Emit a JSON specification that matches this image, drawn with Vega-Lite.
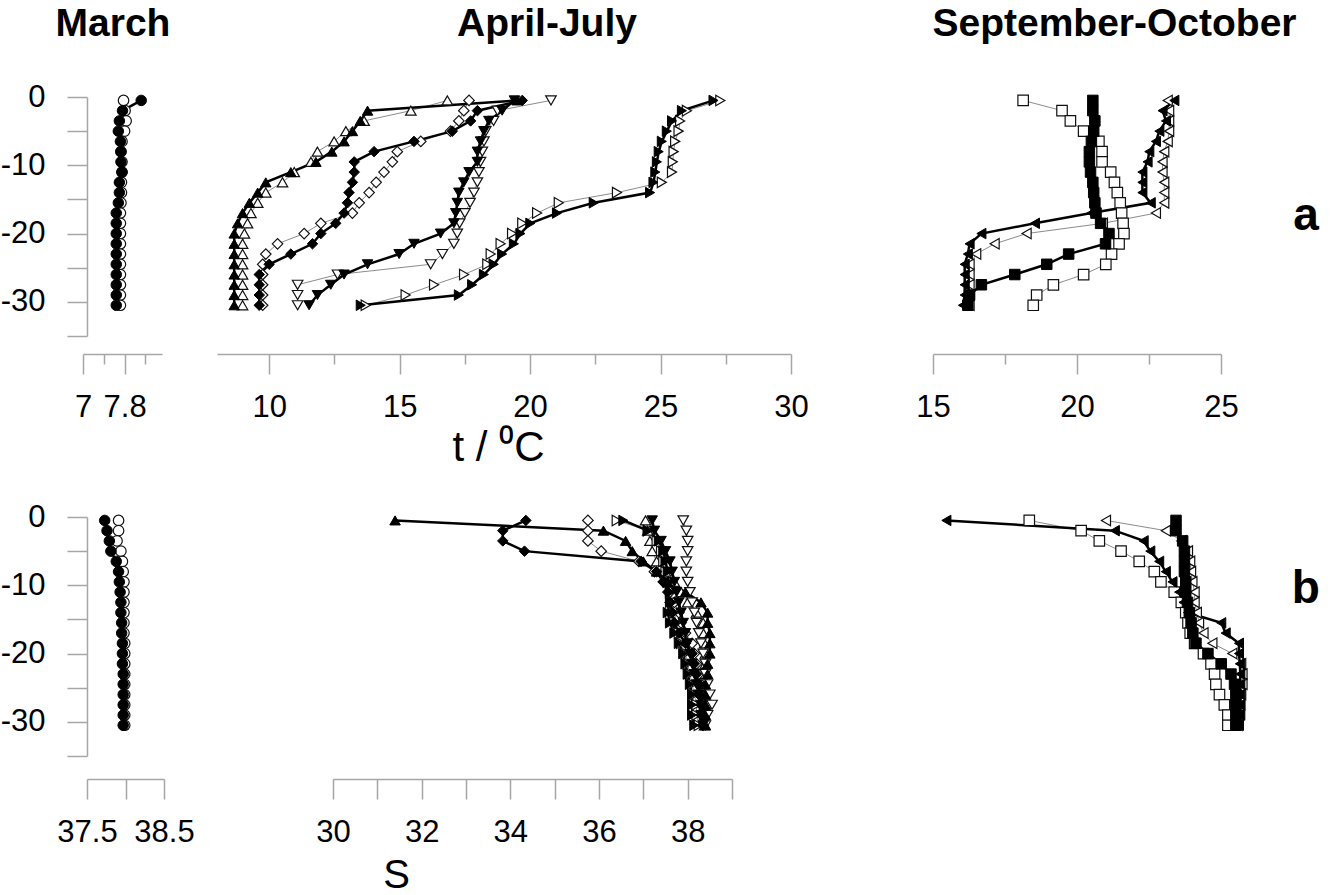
{
"$schema":"https://vega.github.io/schema/vega-lite/v6.json",
"background":"white",
"padding":{"left":0,"top":4,"right":0,"bottom":12},
"datasets":{"prof":[
{"k":"Mf","d":-0.5,"t":8.12,"s":37.73},{"k":"Mf","d":-2,"t":7.76,"s":37.76},{"k":"Mf","d":-3.5,"t":7.70,"s":37.79},{"k":"Mf","d":-5,"t":7.68,"s":37.81},{"k":"Mf","d":-6.5,"t":7.72,"s":37.88},{"k":"Mf","d":-8,"t":7.73,"s":37.91},{"k":"Mf","d":-9.5,"t":7.73,"s":37.92},{"k":"Mf","d":-11,"t":7.75,"s":37.93},{"k":"Mf","d":-12.5,"t":7.70,"s":37.94},{"k":"Mf","d":-14,"t":7.70,"s":37.94},{"k":"Mf","d":-15.5,"t":7.68,"s":37.95},{"k":"Mf","d":-17,"t":7.64,"s":37.95},{"k":"Mf","d":-18.5,"t":7.64,"s":37.96},{"k":"Mf","d":-20,"t":7.64,"s":37.96},{"k":"Mf","d":-21.5,"t":7.64,"s":37.96},{"k":"Mf","d":-23,"t":7.64,"s":37.97},{"k":"Mf","d":-24.5,"t":7.64,"s":37.97},{"k":"Mf","d":-26,"t":7.64,"s":37.97},{"k":"Mf","d":-27.5,"t":7.64,"s":37.97},{"k":"Mf","d":-29,"t":7.64,"s":37.97},{"k":"Mf","d":-30.5,"t":7.64,"s":37.97},
{"k":"Mo","d":-0.5,"t":7.78,"s":37.91},{"k":"Mo","d":-2,"t":7.81,"s":37.91},{"k":"Mo","d":-3.5,"t":7.83,"s":37.89},{"k":"Mo","d":-5,"t":7.80,"s":37.94},{"k":"Mo","d":-6.5,"t":7.75,"s":37.96},{"k":"Mo","d":-8,"t":7.73,"s":37.97},{"k":"Mo","d":-9.5,"t":7.75,"s":37.98},{"k":"Mo","d":-11,"t":7.75,"s":37.98},{"k":"Mo","d":-12.5,"t":7.74,"s":37.98},{"k":"Mo","d":-14,"t":7.74,"s":37.98},{"k":"Mo","d":-15.5,"t":7.73,"s":37.98},{"k":"Mo","d":-17,"t":7.72,"s":37.98},{"k":"Mo","d":-18.5,"t":7.72,"s":37.99},{"k":"Mo","d":-20,"t":7.72,"s":37.99},{"k":"Mo","d":-21.5,"t":7.72,"s":37.99},{"k":"Mo","d":-23,"t":7.72,"s":37.99},{"k":"Mo","d":-24.5,"t":7.72,"s":37.99},{"k":"Mo","d":-26,"t":7.72,"s":37.99},{"k":"Mo","d":-27.5,"t":7.72,"s":37.99},{"k":"Mo","d":-29,"t":7.72,"s":37.99},{"k":"Mo","d":-30.5,"t":7.72,"s":37.99},
{"k":"Uf","d":-0.5,"t":19.5,"s":31.4},{"k":"Uf","d":-2,"t":13.77,"s":36.1},{"k":"Uf","d":-3.5,"t":13.49,"s":36.6},{"k":"Uf","d":-5,"t":13.19,"s":36.75},{"k":"Uf","d":-6.5,"t":12.87,"s":37.0},{"k":"Uf","d":-8,"t":12.4,"s":37.3},{"k":"Uf","d":-9.5,"t":11.79,"s":37.55},{"k":"Uf","d":-11,"t":10.83,"s":37.95},{"k":"Uf","d":-12.5,"t":9.87,"s":38.3},{"k":"Uf","d":-14,"t":9.56,"s":38.45},{"k":"Uf","d":-15.5,"t":9.24,"s":38.45},{"k":"Uf","d":-17,"t":8.98,"s":38.5},{"k":"Uf","d":-18.5,"t":8.79,"s":38.5},{"k":"Uf","d":-20,"t":8.66,"s":38.5},{"k":"Uf","d":-21.5,"t":8.66,"s":38.45},{"k":"Uf","d":-23,"t":8.66,"s":38.45},{"k":"Uf","d":-24.5,"t":8.66,"s":38.4},{"k":"Uf","d":-26,"t":8.66,"s":38.4},{"k":"Uf","d":-27.5,"t":8.66,"s":38.4},{"k":"Uf","d":-29,"t":8.66,"s":38.4},{"k":"Uf","d":-30.5,"t":8.66,"s":38.4},
{"k":"Uo","d":-0.5,"t":16.83,"s":37.05},{"k":"Uo","d":-2,"t":15.43,"s":37.1},{"k":"Uo","d":-3.5,"t":13.64,"s":37.15},{"k":"Uo","d":-5,"t":12.94,"s":37.2},{"k":"Uo","d":-6.5,"t":12.49,"s":37.3},{"k":"Uo","d":-8,"t":11.85,"s":37.5},{"k":"Uo","d":-9.5,"t":11.6,"s":37.7},{"k":"Uo","d":-11,"t":10.96,"s":37.85},{"k":"Uo","d":-12.5,"t":10.51,"s":38.0},{"k":"Uo","d":-14,"t":9.87,"s":38.2},{"k":"Uo","d":-15.5,"t":9.56,"s":38.35},{"k":"Uo","d":-17,"t":9.3,"s":38.35},{"k":"Uo","d":-18.5,"t":9.17,"s":38.38},{"k":"Uo","d":-20,"t":9.05,"s":38.4},{"k":"Uo","d":-21.5,"t":8.98,"s":38.4},{"k":"Uo","d":-23,"t":8.98,"s":38.4},{"k":"Uo","d":-24.5,"t":8.98,"s":38.38},{"k":"Uo","d":-26,"t":8.98,"s":38.38},{"k":"Uo","d":-27.5,"t":8.98,"s":38.38},{"k":"Uo","d":-29,"t":8.98,"s":38.38},{"k":"Uo","d":-30.5,"t":8.98,"s":38.38},
{"k":"Df","d":-0.5,"t":19.7,"s":34.35},{"k":"Df","d":-2,"t":17.98,"s":33.83},{"k":"Df","d":-3.5,"t":17.72,"s":33.83},{"k":"Df","d":-5,"t":17.02,"s":34.32},{"k":"Df","d":-6.5,"t":15.55,"s":36.95},{"k":"Df","d":-8,"t":14.02,"s":37.3},{"k":"Df","d":-9.5,"t":13.26,"s":37.45},{"k":"Df","d":-11,"t":13.26,"s":37.55},{"k":"Df","d":-12.5,"t":13.19,"s":37.6},{"k":"Df","d":-14,"t":13.06,"s":37.65},{"k":"Df","d":-15.5,"t":13.0,"s":37.7},{"k":"Df","d":-17,"t":12.87,"s":37.8},{"k":"Df","d":-18.5,"t":12.55,"s":37.95},{"k":"Df","d":-20,"t":11.98,"s":38.1},{"k":"Df","d":-21.5,"t":11.66,"s":38.15},{"k":"Df","d":-23,"t":10.83,"s":38.2},{"k":"Df","d":-24.5,"t":10.0,"s":38.25},{"k":"Df","d":-26,"t":9.62,"s":38.25},{"k":"Df","d":-27.5,"t":9.62,"s":38.3},{"k":"Df","d":-29,"t":9.62,"s":38.3},{"k":"Df","d":-30.5,"t":9.62,"s":38.33},
{"k":"Do","d":-0.5,"t":17.66,"s":35.75},{"k":"Do","d":-2,"t":17.46,"s":35.75},{"k":"Do","d":-3.5,"t":17.27,"s":35.75},{"k":"Do","d":-5,"t":16.95,"s":36.05},{"k":"Do","d":-6.5,"t":15.81,"s":36.9},{"k":"Do","d":-8,"t":14.91,"s":37.25},{"k":"Do","d":-9.5,"t":14.72,"s":37.45},{"k":"Do","d":-11,"t":14.4,"s":37.6},{"k":"Do","d":-12.5,"t":14.1,"s":37.7},{"k":"Do","d":-14,"t":13.83,"s":37.8},{"k":"Do","d":-15.5,"t":13.45,"s":37.85},{"k":"Do","d":-17,"t":13.19,"s":37.95},{"k":"Do","d":-18.5,"t":11.98,"s":38.1},{"k":"Do","d":-20,"t":11.34,"s":38.15},{"k":"Do","d":-21.5,"t":10.32,"s":38.2},{"k":"Do","d":-23,"t":9.87,"s":38.25},{"k":"Do","d":-24.5,"t":9.75,"s":38.25},{"k":"Do","d":-26,"t":9.75,"s":38.3},{"k":"Do","d":-27.5,"t":9.75,"s":38.3},{"k":"Do","d":-29,"t":9.75,"s":38.32},{"k":"Do","d":-30.5,"t":9.75,"s":38.35},
{"k":"Vf","d":-0.5,"t":19.4,"s":37.2},{"k":"Vf","d":-2,"t":18.93,"s":37.25},{"k":"Vf","d":-3.5,"t":18.42,"s":37.4},{"k":"Vf","d":-5,"t":18.23,"s":37.5},{"k":"Vf","d":-6.5,"t":18.1,"s":37.6},{"k":"Vf","d":-8,"t":17.98,"s":37.65},{"k":"Vf","d":-9.5,"t":17.98,"s":37.7},{"k":"Vf","d":-11,"t":17.66,"s":37.75},{"k":"Vf","d":-12.5,"t":17.46,"s":37.8},{"k":"Vf","d":-14,"t":17.27,"s":37.85},{"k":"Vf","d":-15.5,"t":17.21,"s":37.9},{"k":"Vf","d":-17,"t":17.15,"s":37.95},{"k":"Vf","d":-18.5,"t":17.08,"s":38.0},{"k":"Vf","d":-20,"t":16.57,"s":38.05},{"k":"Vf","d":-21.5,"t":15.55,"s":38.1},{"k":"Vf","d":-23,"t":14.98,"s":38.15},{"k":"Vf","d":-24.5,"t":13.77,"s":38.2},{"k":"Vf","d":-26,"t":12.87,"s":38.25},{"k":"Vf","d":-27.5,"t":12.36,"s":38.3},{"k":"Vf","d":-29,"t":11.85,"s":38.3},{"k":"Vf","d":-30.5,"t":11.53,"s":38.35},
{"k":"Vo","d":-0.5,"t":20.8,"s":37.9},{"k":"Vo","d":-2,"t":18.75,"s":37.97},{"k":"Vo","d":-3.5,"t":18.6,"s":38.0},{"k":"Vo","d":-5,"t":18.3,"s":38.0},{"k":"Vo","d":-6.5,"t":18.23,"s":37.97},{"k":"Vo","d":-8,"t":18.17,"s":37.97},{"k":"Vo","d":-9.5,"t":18.1,"s":38.0},{"k":"Vo","d":-11,"t":18.04,"s":38.05},{"k":"Vo","d":-12.5,"t":17.98,"s":38.1},{"k":"Vo","d":-14,"t":17.85,"s":38.15},{"k":"Vo","d":-15.5,"t":17.7,"s":38.2},{"k":"Vo","d":-17,"t":17.5,"s":38.25},{"k":"Vo","d":-18.5,"t":17.3,"s":38.3},{"k":"Vo","d":-20,"t":17.21,"s":38.35},{"k":"Vo","d":-21.5,"t":17.08,"s":38.4},{"k":"Vo","d":-23,"t":16.64,"s":38.4},{"k":"Vo","d":-24.5,"t":16.19,"s":38.45},{"k":"Vo","d":-26,"t":12.62,"s":38.5},{"k":"Vo","d":-27.5,"t":11.09,"s":38.55},{"k":"Vo","d":-29,"t":11.09,"s":38.45},{"k":"Vo","d":-30.5,"t":11.09,"s":38.4},
{"k":"Rf","d":-0.5,"t":27.03,"s":36.55},{"k":"Rf","d":-2,"t":25.82,"s":37.1},{"k":"Rf","d":-3.5,"t":25.44,"s":37.35},{"k":"Rf","d":-5,"t":25.24,"s":37.45},{"k":"Rf","d":-6.5,"t":25.05,"s":37.5},{"k":"Rf","d":-8,"t":24.93,"s":37.55},{"k":"Rf","d":-9.5,"t":24.86,"s":37.55},{"k":"Rf","d":-11,"t":24.8,"s":37.6},{"k":"Rf","d":-12.5,"t":24.73,"s":37.6},{"k":"Rf","d":-14,"t":24.6,"s":37.55},{"k":"Rf","d":-15.5,"t":22.44,"s":37.6},{"k":"Rf","d":-17,"t":21.03,"s":37.7},{"k":"Rf","d":-18.5,"t":20.01,"s":37.8},{"k":"Rf","d":-20,"t":19.63,"s":37.9},{"k":"Rf","d":-21.5,"t":19.38,"s":37.95},{"k":"Rf","d":-23,"t":18.93,"s":38.0},{"k":"Rf","d":-24.5,"t":18.61,"s":38.05},{"k":"Rf","d":-26,"t":18.23,"s":38.1},{"k":"Rf","d":-27.5,"t":17.78,"s":38.1},{"k":"Rf","d":-29,"t":17.27,"s":38.1},{"k":"Rf","d":-30.5,"t":13.51,"s":38.15},
{"k":"Ro","d":-0.5,"t":27.29,"s":36.4},{"k":"Ro","d":-2,"t":26.01,"s":37.1},{"k":"Ro","d":-3.5,"t":25.75,"s":37.3},{"k":"Ro","d":-5,"t":25.69,"s":37.4},{"k":"Ro","d":-6.5,"t":25.56,"s":37.45},{"k":"Ro","d":-8,"t":25.5,"s":37.5},{"k":"Ro","d":-9.5,"t":25.47,"s":37.55},{"k":"Ro","d":-11,"t":25.44,"s":37.6},{"k":"Ro","d":-12.5,"t":25.05,"s":37.65},{"k":"Ro","d":-14,"t":23.33,"s":37.7},{"k":"Ro","d":-15.5,"t":21.1,"s":37.75},{"k":"Ro","d":-17,"t":20.27,"s":37.8},{"k":"Ro","d":-18.5,"t":19.7,"s":37.85},{"k":"Ro","d":-20,"t":19.31,"s":37.95},{"k":"Ro","d":-21.5,"t":18.87,"s":38.0},{"k":"Ro","d":-23,"t":18.49,"s":38.05},{"k":"Ro","d":-24.5,"t":18.36,"s":38.1},{"k":"Ro","d":-26,"t":17.47,"s":38.15},{"k":"Ro","d":-27.5,"t":16.32,"s":38.2},{"k":"Ro","d":-29,"t":15.23,"s":38.2},{"k":"Ro","d":-30.5,"t":13.7,"s":38.25},
{"k":"Sf","d":-0.5,"t":20.55,"s":36.88},{"k":"Sf","d":-2,"t":20.55,"s":36.88},{"k":"Sf","d":-3.5,"t":20.62,"s":37.03},{"k":"Sf","d":-5,"t":20.58,"s":37.07},{"k":"Sf","d":-6.5,"t":20.5,"s":37.07},{"k":"Sf","d":-8,"t":20.43,"s":37.07},{"k":"Sf","d":-9.5,"t":20.43,"s":37.1},{"k":"Sf","d":-11,"t":20.47,"s":37.1},{"k":"Sf","d":-12.5,"t":20.55,"s":37.14},{"k":"Sf","d":-14,"t":20.58,"s":37.18},{"k":"Sf","d":-15.5,"t":20.62,"s":37.22},{"k":"Sf","d":-17,"t":20.66,"s":37.26},{"k":"Sf","d":-18.5,"t":20.82,"s":37.33},{"k":"Sf","d":-20,"t":21.11,"s":37.6},{"k":"Sf","d":-21.5,"t":20.99,"s":37.9},{"k":"Sf","d":-23,"t":19.71,"s":38.12},{"k":"Sf","d":-24.5,"t":18.95,"s":38.2},{"k":"Sf","d":-26,"t":17.84,"s":38.23},{"k":"Sf","d":-27.5,"t":16.68,"s":38.23},{"k":"Sf","d":-29,"t":16.27,"s":38.23},{"k":"Sf","d":-30.5,"t":16.21,"s":38.23},
{"k":"So","d":-0.5,"t":18.13,"s":33.57},{"k":"So","d":-2,"t":19.48,"s":34.74},{"k":"So","d":-3.5,"t":19.77,"s":35.15},{"k":"So","d":-5,"t":20.23,"s":35.64},{"k":"So","d":-6.5,"t":20.76,"s":36.05},{"k":"So","d":-8,"t":20.87,"s":36.39},{"k":"So","d":-9.5,"t":20.87,"s":36.54},{"k":"So","d":-11,"t":21.17,"s":36.84},{"k":"So","d":-12.5,"t":21.3,"s":37.0},{"k":"So","d":-14,"t":21.4,"s":37.1},{"k":"So","d":-15.5,"t":21.5,"s":37.15},{"k":"So","d":-17,"t":21.55,"s":37.2},{"k":"So","d":-18.5,"t":21.6,"s":37.3},{"k":"So","d":-20,"t":21.63,"s":37.5},{"k":"So","d":-21.5,"t":21.46,"s":37.67},{"k":"So","d":-23,"t":21.2,"s":37.75},{"k":"So","d":-24.5,"t":21.0,"s":37.78},{"k":"So","d":-26,"t":20.23,"s":37.86},{"k":"So","d":-27.5,"t":19.18,"s":37.97},{"k":"So","d":-29,"t":18.6,"s":38.05},{"k":"So","d":-30.5,"t":18.48,"s":38.05},
{"k":"Lf","d":-0.5,"t":23.38,"s":31.7},{"k":"Lf","d":-2,"t":22.97,"s":35.5},{"k":"Lf","d":-3.5,"t":23.09,"s":36.15},{"k":"Lf","d":-5,"t":22.86,"s":36.3},{"k":"Lf","d":-6.5,"t":22.74,"s":36.5},{"k":"Lf","d":-8,"t":22.51,"s":36.65},{"k":"Lf","d":-9.5,"t":22.45,"s":36.8},{"k":"Lf","d":-11,"t":22.27,"s":36.95},{"k":"Lf","d":-12.5,"t":22.27,"s":37.05},{"k":"Lf","d":-14,"t":22.27,"s":37.15},{"k":"Lf","d":-15.5,"t":22.56,"s":37.9},{"k":"Lf","d":-17,"t":20.5,"s":38.0},{"k":"Lf","d":-18.5,"t":18.54,"s":38.3},{"k":"Lf","d":-20,"t":16.68,"s":38.3},{"k":"Lf","d":-21.5,"t":16.27,"s":38.32},{"k":"Lf","d":-23,"t":16.21,"s":38.33},{"k":"Lf","d":-24.5,"t":16.1,"s":38.33},{"k":"Lf","d":-26,"t":16.1,"s":38.33},{"k":"Lf","d":-27.5,"t":16.1,"s":38.33},{"k":"Lf","d":-29,"t":16.1,"s":38.33},{"k":"Lf","d":-30.5,"t":16.04,"s":38.3},
{"k":"Lo","d":-0.5,"t":23.15,"s":35.3},{"k":"Lo","d":-2,"t":23.2,"s":36.65},{"k":"Lo","d":-3.5,"t":23.2,"s":37.0},{"k":"Lo","d":-5,"t":23.2,"s":37.15},{"k":"Lo","d":-6.5,"t":23.15,"s":37.2},{"k":"Lo","d":-8,"t":23.03,"s":37.22},{"k":"Lo","d":-9.5,"t":22.97,"s":37.25},{"k":"Lo","d":-11,"t":22.97,"s":37.3},{"k":"Lo","d":-12.5,"t":23.03,"s":37.3},{"k":"Lo","d":-14,"t":23.03,"s":37.35},{"k":"Lo","d":-15.5,"t":23.03,"s":37.4},{"k":"Lo","d":-17,"t":22.74,"s":37.5},{"k":"Lo","d":-18.5,"t":20.9,"s":37.7},{"k":"Lo","d":-20,"t":18.25,"s":38.15},{"k":"Lo","d":-21.5,"t":17.14,"s":38.35},{"k":"Lo","d":-23,"t":16.5,"s":38.38},{"k":"Lo","d":-24.5,"t":16.27,"s":38.38},{"k":"Lo","d":-26,"t":16.27,"s":38.35},{"k":"Lo","d":-27.5,"t":16.27,"s":38.33},{"k":"Lo","d":-29,"t":16.27,"s":38.3},{"k":"Lo","d":-30.5,"t":16.27,"s":38.27}
]},
"data":{"name":"prof"},
"columns":3,
"bounds":"flush",
"align":"each",
"spacing":{"row":181,"column":10},
"concat":[
{
"width":124,"height":239,
"title":{"text":"March","frame":"group","anchor":"middle","dx":-32,"offset":6,"baseline":"alphabetic","fontSize":39,"fontWeight":"bold","font":"Liberation Sans","color":"#000"},
"encoding":{
"x":{"field":"t","type":"quantitative","scale":{"domain":[7,8.52],"range":[0,79],"nice":false,"zero":false},"axis":null},
"y":{"field":"d","type":"quantitative","scale":{"domain":[-35,0],"nice":false,"zero":false},"axis":{"values":[0,-5,-10,-15,-20,-25,-30,-35],"tickSize":20,"labelPadding":22,"offset":-4,"title":null,"labelExpr":"datum.value % 10 === 0 ? toString(datum.value) : ''"}}
},
"resolve":{"axis":{"x":"independent"}},
"layer":[
{"transform":[{"filter":{"field":"k","oneOf":["Mo"]}}],"mark":{"type":"line","color":"#8c8c8c","strokeWidth":1},
"encoding":{"x":{"field":"t","type":"quantitative","scale":{"domain":[7,8.52],"range":[0,79],"nice":false,"zero":false},"axis":{"orient":"bottom","values":[7,7.8],"tickSize":20,"labelPadding":18,"offset":18,"labelExpr":"toString(datum.value)","title":null}},"detail":{"field":"k","type":"nominal"},"order":{"field":"d","type":"quantitative"}}},
{"transform":[{"filter":{"field":"k","oneOf":["Mf"]}}],"mark":{"type":"line","color":"#000","strokeWidth":2.5},
"encoding":{"x":{"field":"t","type":"quantitative","scale":{"domain":[7,8.52],"range":[0,79],"nice":false,"zero":false},"axis":{"orient":"bottom","values":[7.4,8.2],"tickSize":10,"labels":false,"domain":false,"offset":18,"title":null}},"detail":{"field":"k","type":"nominal"},"order":{"field":"d","type":"quantitative"}}},
{"transform":[{"filter":{"field":"k","oneOf":["Mo"]}}],"mark":{"type":"point","filled":true,"fill":"#fff","stroke":"#111","strokeWidth":1.2,"opacity":1},
"encoding":{"shape":{"field":"k","type":"nominal","legend":null,"scale":{"domain":["Mf","Mo","Uf","Uo","Df","Do","Vf","Vo","Rf","Ro","Sf","So","Lf","Lo"],"range":["circle","circle","triangle-up","triangle-up","diamond","diamond","triangle-down","triangle-down","triangle-right","triangle-right","square","square","triangle-left","triangle-left"]}},"size":{"field":"k","type":"ordinal","legend":null,"scale":{"domain":["Mf","Mo","Uf","Uo","Df","Do","Vf","Vo","Rf","Ro","Sf","So","Lf","Lo"],"range":[110,110,230,230,200,200,230,230,230,230,140,140,230,230]}}}},
{"transform":[{"filter":{"field":"k","oneOf":["Mf"]}}],"mark":{"type":"point","filled":true,"fill":"#000","stroke":"#000","strokeWidth":1,"opacity":1},
"encoding":{"shape":{"field":"k","type":"nominal","legend":null},"size":{"field":"k","type":"ordinal","legend":null}}}
]
},
{
"width":644,"height":239,
"title":{"text":"April-July","frame":"group","anchor":"middle","dx":8,"offset":18,"baseline":"alphabetic","fontSize":39,"fontWeight":"bold","font":"Liberation Sans","color":"#000"},
"encoding":{
"x":{"field":"t","type":"quantitative","scale":{"domain":[8,30],"range":[0,574],"nice":false,"zero":false},"axis":null},
"y":{"field":"d","type":"quantitative","scale":{"domain":[-35,0],"nice":false,"zero":false},"axis":null}
},
"resolve":{"axis":{"x":"independent"}},
"layer":[
{"transform":[{"filter":{"field":"k","oneOf":["Uo","Do","Vo","Ro"]}}],"mark":{"type":"line","color":"#8c8c8c","strokeWidth":1},
"encoding":{"x":{"field":"t","type":"quantitative","scale":{"domain":[8,30],"range":[0,574],"nice":false,"zero":false},"axis":{"orient":"bottom","values":[10,15,20,25,30],"tickSize":20,"labelPadding":18,"offset":18,"labelExpr":"toString(datum.value)","title":"t / ⁰C","titleX":281,"titleY":106,"titleBaseline":"alphabetic","titleAlign":"center","titleFontSize":42}},"detail":{"field":"k","type":"nominal"},"order":{"field":"d","type":"quantitative"}}},
{"transform":[{"filter":{"field":"k","oneOf":["Uf","Df","Vf","Rf"]}}],"mark":{"type":"line","color":"#000","strokeWidth":2.5},
"encoding":{"x":{"field":"t","type":"quantitative","scale":{"domain":[8,30],"range":[0,574],"nice":false,"zero":false},"axis":{"orient":"bottom","values":[12.5,17.5,22.5,27.5],"tickSize":10,"labels":false,"domain":false,"offset":18,"title":null}},"detail":{"field":"k","type":"nominal"},"order":{"field":"d","type":"quantitative"}}},
{"transform":[{"filter":{"field":"k","oneOf":["Uo","Do","Vo","Ro"]}}],"mark":{"type":"point","filled":true,"fill":"#fff","stroke":"#111","strokeWidth":1.2,"opacity":1},
"encoding":{"shape":{"field":"k","type":"nominal","legend":null},"size":{"field":"k","type":"ordinal","legend":null}}},
{"transform":[{"filter":{"field":"k","oneOf":["Uf","Df","Vf","Rf"]}}],"mark":{"type":"point","filled":true,"fill":"#000","stroke":"#000","strokeWidth":1,"opacity":1},
"encoding":{"shape":{"field":"k","type":"nominal","legend":null},"size":{"field":"k","type":"ordinal","legend":null}}}
]
},
{
"width":399,"height":239,
"title":{"text":"September-October","frame":"group","anchor":"middle","dx":44,"offset":18,"baseline":"alphabetic","fontSize":39,"fontWeight":"bold","font":"Liberation Sans","color":"#000"},
"encoding":{
"x":{"field":"t","type":"quantitative","scale":{"domain":[15,25],"range":[62,350],"nice":false,"zero":false},"axis":null},
"y":{"field":"d","type":"quantitative","scale":{"domain":[-35,0],"nice":false,"zero":false},"axis":null}
},
"resolve":{"axis":{"x":"independent"}},
"layer":[
{"transform":[{"filter":{"field":"k","oneOf":["So","Lo"]}}],"mark":{"type":"line","color":"#8c8c8c","strokeWidth":1},
"encoding":{"x":{"field":"t","type":"quantitative","scale":{"domain":[15,25],"range":[62,350],"nice":false,"zero":false},"axis":{"orient":"bottom","values":[15,20,25],"tickSize":20,"labelPadding":18,"offset":18,"labelExpr":"toString(datum.value)","title":null}},"detail":{"field":"k","type":"nominal"},"order":{"field":"d","type":"quantitative"}}},
{"transform":[{"filter":{"field":"k","oneOf":["Sf","Lf"]}}],"mark":{"type":"line","color":"#000","strokeWidth":2.5},
"encoding":{"x":{"field":"t","type":"quantitative","scale":{"domain":[15,25],"range":[62,350],"nice":false,"zero":false},"axis":{"orient":"bottom","values":[17.5,22.5],"tickSize":10,"labels":false,"domain":false,"offset":18,"title":null}},"detail":{"field":"k","type":"nominal"},"order":{"field":"d","type":"quantitative"}}},
{"transform":[{"filter":{"field":"k","oneOf":["So","Lo"]}}],"mark":{"type":"point","filled":true,"fill":"#fff","stroke":"#111","strokeWidth":1.2,"opacity":1},
"encoding":{"shape":{"field":"k","type":"nominal","legend":null},"size":{"field":"k","type":"ordinal","legend":null}}},
{"transform":[{"filter":{"field":"k","oneOf":["Sf","Lf"]}}],"mark":{"type":"point","filled":true,"fill":"#000","stroke":"#000","strokeWidth":1,"opacity":1},
"encoding":{"shape":{"field":"k","type":"nominal","legend":null},"size":{"field":"k","type":"ordinal","legend":null}}},
{"data":{"values":[{"lab":"a","x":27.95,"y":-19.5}]},"mark":{"type":"text","font":"Liberation Sans","fontSize":46,"fontWeight":"bold","color":"#000","baseline":"alphabetic","align":"center"},
"encoding":{"x":{"field":"x","type":"quantitative","axis":null},"y":{"field":"y","type":"quantitative","axis":null},"text":{"field":"lab"}}}
]
},
{
"width":124,"height":239,
"encoding":{
"x":{"field":"s","type":"quantitative","scale":{"domain":[37.5,38.5],"range":[4,81],"nice":false,"zero":false},"axis":{"orient":"bottom","values":[37.5,38,38.5],"tickSize":20,"labelPadding":18,"offset":23,"labelExpr":"datum.value === 38 ? '' : toString(datum.value)","title":null}},
"y":{"field":"d","type":"quantitative","scale":{"domain":[-35,0],"nice":false,"zero":false},"axis":{"values":[0,-5,-10,-15,-20,-25,-30,-35],"tickSize":20,"labelPadding":22,"offset":-4,"title":null,"labelExpr":"datum.value % 10 === 0 ? toString(datum.value) : ''"}}
},
"layer":[
{"transform":[{"filter":{"field":"k","oneOf":["Mo"]}}],"mark":{"type":"line","color":"#8c8c8c","strokeWidth":1},
"encoding":{"detail":{"field":"k","type":"nominal"},"order":{"field":"d","type":"quantitative"}}},
{"transform":[{"filter":{"field":"k","oneOf":["Mf"]}}],"mark":{"type":"line","color":"#000","strokeWidth":2.5},
"encoding":{"detail":{"field":"k","type":"nominal"},"order":{"field":"d","type":"quantitative"}}},
{"transform":[{"filter":{"field":"k","oneOf":["Mo"]}}],"mark":{"type":"point","filled":true,"fill":"#fff","stroke":"#111","strokeWidth":1.2,"opacity":1},
"encoding":{"shape":{"field":"k","type":"nominal","legend":null},"size":{"field":"k","type":"ordinal","legend":null}}},
{"transform":[{"filter":{"field":"k","oneOf":["Mf"]}}],"mark":{"type":"point","filled":true,"fill":"#000","stroke":"#000","strokeWidth":1,"opacity":1},
"encoding":{"shape":{"field":"k","type":"nominal","legend":null},"size":{"field":"k","type":"ordinal","legend":null}}}
]
},
{
"width":644,"height":239,
"encoding":{
"x":{"field":"s","type":"quantitative","scale":{"domain":[30,39],"range":[116,515],"nice":false,"zero":false},"axis":{"orient":"bottom","values":[30,31,32,33,34,35,36,37,38,39],"tickSize":20,"labelPadding":18,"offset":23,"labelExpr":"datum.value % 2 === 0 ? toString(datum.value) : ''","title":"S","titleX":179,"titleY":108,"titleBaseline":"alphabetic","titleAlign":"center","titleFontSize":40}},
"y":{"field":"d","type":"quantitative","scale":{"domain":[-35,0],"nice":false,"zero":false},"axis":null}
},
"layer":[
{"transform":[{"filter":{"field":"k","oneOf":["Uo","Do","Vo","Ro"]}}],"mark":{"type":"line","color":"#8c8c8c","strokeWidth":1},
"encoding":{"detail":{"field":"k","type":"nominal"},"order":{"field":"d","type":"quantitative"}}},
{"transform":[{"filter":{"field":"k","oneOf":["Uf","Df","Vf","Rf"]}}],"mark":{"type":"line","color":"#000","strokeWidth":2.5},
"encoding":{"detail":{"field":"k","type":"nominal"},"order":{"field":"d","type":"quantitative"}}},
{"transform":[{"filter":{"field":"k","oneOf":["Uo","Do","Vo","Ro"]}}],"mark":{"type":"point","filled":true,"fill":"#fff","stroke":"#111","strokeWidth":1.2,"opacity":1},
"encoding":{"shape":{"field":"k","type":"nominal","legend":null},"size":{"field":"k","type":"ordinal","legend":null}}},
{"transform":[{"filter":{"field":"k","oneOf":["Uf","Df","Vf","Rf"]}}],"mark":{"type":"point","filled":true,"fill":"#000","stroke":"#000","strokeWidth":1,"opacity":1},
"encoding":{"shape":{"field":"k","type":"nominal","legend":null},"size":{"field":"k","type":"ordinal","legend":null}}}
]
},
{
"width":399,"height":239,
"encoding":{
"x":{"field":"s","type":"quantitative","scale":{"domain":[30,39],"range":[0,399],"nice":false,"zero":false},"axis":{"orient":"bottom","values":[30,31,32,33,34,35,36,37,38,39],"tickSize":20,"labelPadding":18,"offset":23,"labelExpr":"datum.value % 2 === 0 ? toString(datum.value) : ''","title":null}},
"y":{"field":"d","type":"quantitative","scale":{"domain":[-35,0],"nice":false,"zero":false},"axis":null}
},
"layer":[
{"transform":[{"filter":{"field":"k","oneOf":["So","Lo"]}}],"mark":{"type":"line","color":"#8c8c8c","strokeWidth":1},
"encoding":{"detail":{"field":"k","type":"nominal"},"order":{"field":"d","type":"quantitative"}}},
{"transform":[{"filter":{"field":"k","oneOf":["Sf","Lf"]}}],"mark":{"type":"line","color":"#000","strokeWidth":2.5},
"encoding":{"detail":{"field":"k","type":"nominal"},"order":{"field":"d","type":"quantitative"}}},
{"transform":[{"filter":{"field":"k","oneOf":["So","Lo"]}}],"mark":{"type":"point","filled":true,"fill":"#fff","stroke":"#111","strokeWidth":1.2,"opacity":1},
"encoding":{"shape":{"field":"k","type":"nominal","legend":null},"size":{"field":"k","type":"ordinal","legend":null}}},
{"transform":[{"filter":{"field":"k","oneOf":["Sf","Lf"]}}],"mark":{"type":"point","filled":true,"fill":"#000","stroke":"#000","strokeWidth":1,"opacity":1},
"encoding":{"shape":{"field":"k","type":"nominal","legend":null},"size":{"field":"k","type":"ordinal","legend":null}}},
{"data":{"values":[{"lab":"b","x":39.81,"y":-12.6}]},"mark":{"type":"text","font":"Liberation Sans","fontSize":46,"fontWeight":"bold","color":"#000","baseline":"alphabetic","align":"center"},
"encoding":{"x":{"field":"x","type":"quantitative","axis":null},"y":{"field":"y","type":"quantitative","axis":null},"text":{"field":"lab"}}}
]
}
],
"config":{
"view":{"stroke":null},
"font":"Liberation Sans",
"axis":{"grid":false,"domainColor":"#a6a6a6","tickColor":"#a6a6a6","domainWidth":1.5,"tickWidth":1.5,"labelFont":"Liberation Sans","labelFontSize":31,"labelColor":"#000","labelFlush":false,"labelOverlap":false,"labelBound":false,"titleFont":"Liberation Sans","titleFontWeight":"normal","titleColor":"#000","titleFontSize":36}
}
}
